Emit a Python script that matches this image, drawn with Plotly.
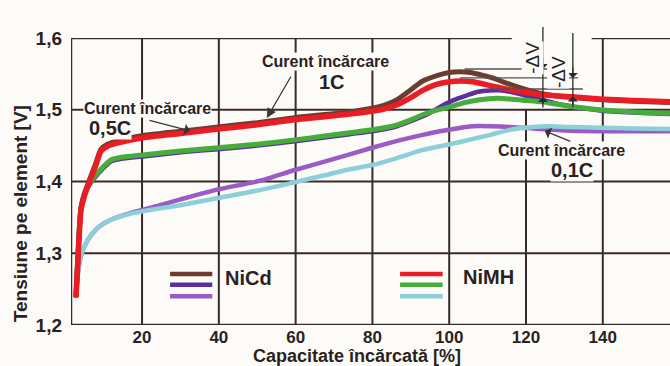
import plotly.graph_objects as go

# ---- charge curves: capacity charged [%] vs cell voltage [V] ----
cap_nicd_1c = [2.8, 3.4, 4.1, 5.0, 6.2, 7.8, 9.3, 11.0, 13.2, 20.2, 30, 39.8, 50, 59.7, 67, 74.1, 79.9,
               83, 86.4, 90, 93.1, 97, 100, 102.8, 105.5, 108.8, 111.5, 114, 118.4, 123.6, 128, 132,
               140, 148, 157.5]
u_nicd_1c = [1.242, 1.303, 1.363, 1.383, 1.401, 1.423, 1.445, 1.452, 1.456, 1.464, 1.470, 1.476, 1.482,
             1.489, 1.493, 1.497, 1.502, 1.506, 1.514, 1.528, 1.540, 1.548, 1.552, 1.553, 1.552, 1.548,
             1.544, 1.539, 1.531, 1.523, 1.519, 1.517, 1.514, 1.512, 1.510]

cap_nimh_1c = [2.8, 3.4, 4.1, 5.0, 6.2, 7.8, 9.3, 11.0, 13.2, 20.2, 30, 39.8, 50, 59.7, 67, 74.1, 79.9,
               83, 86.4, 90, 93.1, 96.5, 100.1, 103, 106.1, 111.3, 115.8, 120, 124.1, 131.9, 139.2,
               148, 157.5]
u_nimh_1c = [1.239, 1.300, 1.360, 1.380, 1.398, 1.420, 1.442, 1.449, 1.453, 1.461, 1.467, 1.473, 1.479,
             1.486, 1.490, 1.494, 1.498, 1.501, 1.507, 1.517, 1.527, 1.535, 1.539, 1.540, 1.539, 1.533,
             1.528, 1.524, 1.521, 1.518, 1.515, 1.513, 1.511]

cap_nicd_05c = [2.8, 3.4, 4.1, 5.5, 7.5, 9.8, 11.9, 14, 20.2, 30.7, 39.8, 50, 59.8, 67, 74.1, 79.9,
                86.4, 90, 94.4, 97.6, 101, 104.6, 107.5, 110.6, 113, 115.8, 118.4, 121, 124.1, 127,
                130.6, 135, 139.2, 148, 157.5]
u_nicd_05c = [1.238, 1.308, 1.362, 1.388, 1.404, 1.418, 1.428, 1.431, 1.435, 1.441, 1.445, 1.450, 1.456,
              1.461, 1.466, 1.470, 1.477, 1.484, 1.494, 1.504, 1.513, 1.520, 1.525, 1.527, 1.527, 1.525,
              1.522, 1.518, 1.514, 1.510, 1.506, 1.502, 1.499, 1.496, 1.494]

cap_nimh_05c = [2.8, 3.4, 4.1, 5.5, 7.5, 9.8, 11.9, 14, 20.2, 30.7, 39.8, 50, 59.8, 67, 74.1, 79.9,
                86.4, 90, 93.1, 96.5, 100.1, 104, 108, 112.4, 115.8, 120, 124.1, 130, 139.2, 148, 157.5]
u_nimh_05c = [1.239, 1.310, 1.364, 1.390, 1.406, 1.420, 1.430, 1.433, 1.437, 1.443, 1.447, 1.452, 1.458,
              1.463, 1.468, 1.472, 1.479, 1.486, 1.493, 1.499, 1.504, 1.510, 1.514, 1.516, 1.515, 1.513,
              1.511, 1.506, 1.500, 1.497, 1.495]

cap_nicd_01c = [2.8, 3.3, 4.2, 5.4, 7, 8.8, 12, 17.6, 24, 30, 39.8, 50.7, 59.8, 71.6, 79.9, 86, 93.1,
                97.5, 102, 106, 115.8, 121.8, 130, 139.2, 148, 157.5]
u_nicd_01c = [1.239, 1.272, 1.298, 1.314, 1.327, 1.337, 1.347, 1.357, 1.366, 1.375, 1.389, 1.401, 1.416,
              1.434, 1.447, 1.456, 1.465, 1.470, 1.474, 1.477, 1.476, 1.474, 1.471, 1.470, 1.470, 1.470]

cap_nimh_01c = [2.8, 3.3, 4.2, 5.4, 7, 8.8, 12, 17.6, 24, 30, 39.8, 50.7, 59.8, 67, 74.1, 79.9, 86,
                93.1, 102, 106, 110.6, 115.8, 121.8, 126, 130.6, 139.2, 148, 157.5]
u_nimh_01c = [1.239, 1.272, 1.298, 1.314, 1.327, 1.337, 1.347, 1.356, 1.362, 1.367, 1.377, 1.388, 1.399,
              1.408, 1.417, 1.423, 1.432, 1.444, 1.454, 1.459, 1.465, 1.472, 1.476, 1.477, 1.476, 1.475,
              1.474, 1.473]

x_ticks = [20, 40, 60, 80, 100, 120, 140]
y_ticks = [1.2, 1.3, 1.4, 1.5, 1.6]
y_tick_text = ["1,2", "1,3", "1,4", "1,5", "1,6"]

# ---- styling ----
BG = "#fcfbf7"
INK = "#2b1f1f"
GRID = "#3a2b2b"
FONT = "Liberation Sans, Arial, sans-serif"
C_BROWN = "#6e3b30"
C_RED = "#ec1c24"
C_DPURPLE = "#5a2fa0"
C_GREEN = "#46ad3c"
C_LILAC = "#9a5cc4"
C_CYAN = "#8ccfd9"

X0, X1 = 1.5, 157.5
Y0, Y1 = 1.2, 1.6

fig = go.Figure()

# draw order: lower curves first, so the 1C / 0.5C NiMH lines sit on top
series = [
    (cap_nicd_01c, u_nicd_01c, C_LILAC, 4.5),
    (cap_nimh_01c, u_nimh_01c, C_CYAN, 4.5),
    (cap_nicd_05c, u_nicd_05c, C_DPURPLE, 4.5),
    (cap_nimh_05c, u_nimh_05c, C_GREEN, 5),
    (cap_nicd_1c, u_nicd_1c, C_BROWN, 5),
    (cap_nimh_1c, u_nimh_1c, C_RED, 5.5),
]
for xs, ys, col, w in series:
    fig.add_trace(go.Scatter(x=xs, y=ys, mode="lines", showlegend=False, hoverinfo="skip",
                             line=dict(color=col, width=w, shape="spline", smoothing=0.6)))

shapes = []
# grid
for xv in x_ticks:
    top = 1.5 if xv == 120 else Y1
    shapes.append(dict(type="line", xref="x", yref="y", x0=xv, x1=xv, y0=Y0, y1=top,
                       line=dict(color=GRID, width=2), layer="below"))
for yv in [1.3, 1.4, 1.5]:
    shapes.append(dict(type="line", xref="x", yref="y", x0=X0, x1=X1, y0=yv, y1=yv,
                       line=dict(color=GRID, width=2), layer="below"))
# frame: left, bottom, and a top edge interrupted near the -ΔV marks
for (a, b, c, d) in [(X0, X0, Y0, Y1), (X0, X1, Y0, Y0), (X0, 116.3, Y1, Y1), (137.1, X1, Y1, Y1)]:
    shapes.append(dict(type="line", xref="x", yref="y", x0=a, x1=b, y0=c, y1=d,
                       line=dict(color=GRID, width=2.5), layer="below"))

# peak reference lines for -ΔV
for (a, b, yv) in [(104.0, 126.2, 1.5568), (102.8, 133.5, 1.5443), (110.6, 134.8, 1.5289)]:
    shapes.append(dict(type="line", xref="x", yref="y", x0=a, x1=b, y0=yv, y1=yv,
                       line=dict(color="#555050", width=1.3), layer="above"))
# vertical -ΔV marker lines (extend above the frame)
for xv, ytop, ybot in [(124.4, 1.038, 0.77), (132.2, 1.017, 0.77)]:
    shapes.append(dict(type="line", xref="x", yref="paper", x0=xv, x1=xv, y0=ybot, y1=ytop,
                       line=dict(color="#2b2b2b", width=1.3), layer="above"))

# legend swatches
for xa, xb, cols in [(27.3, 38.3, [C_BROWN, C_DPURPLE, C_LILAC]),
                     (87.2, 98.3, [C_RED, C_GREEN, C_CYAN])]:
    for yv, col in zip([1.271, 1.256, 1.240], cols):
        shapes.append(dict(type="line", xref="x", yref="y", x0=xa, x1=xb, y0=yv, y1=yv,
                           line=dict(color=col, width=4.5), layer="above"))

fig.update_layout(shapes=shapes)

bold = dict(family=FONT, color=INK, weight="bold")


def label(text, x, y, size, **kw):
    fig.add_annotation(text=text, x=x, y=y, xref="x", yref="y", showarrow=False,
                       font=dict(size=size, **bold), bgcolor=BG, borderpad=0, **kw)


label("Curent încărcare", 21.3, 1.5024, 16)
label("0,5C", 11.7, 1.4746, 20)
label("Curent încărcare", 67.9, 1.5666, 16)
label("1C", 69.4, 1.5387, 20)
label("Curent încărcare", 129.3, 1.4439, 16)
label("0,1C", 131.9, 1.416, 20)
label("NiCd", 41.4, 1.2655, 20, xanchor="left")
label("NiMH", 103.3, 1.2669, 20, xanchor="left")

# pointer arrows
for (hx, hy, ax, ay, head) in [(32.5, 1.4704, -42, -11, 1), (52.5, 1.4885, 25, -43, 2),
                               (124.9, 1.4704, 27, 11, 1)]:
    fig.add_annotation(x=hx, y=hy, xref="x", yref="y", text="", showarrow=True, ax=ax, ay=ay,
                       arrowhead=head, arrowsize=1.6, arrowwidth=1.2, arrowcolor="#3a3535")

# -ΔV arrowheads (down onto the peak line, up onto the curve)
for (hx, hy, ay) in [(124.4, 1.5568, -12), (124.4, 1.5178, 12), (132.2, 1.5443, -12), (132.2, 1.5185, 12)]:
    fig.add_annotation(x=hx, y=hy, xref="x", yref="y", text="", showarrow=True, ax=0, ay=ay,
                       arrowhead=1, arrowsize=1.3, arrowwidth=1.3, arrowcolor="#2b2b2b")

for tx, ty in [(121.8, 0.99), (128.3, 0.94)]:
    fig.add_annotation(text="-ΔV", x=tx, y=ty, xref="x", yref="paper", showarrow=False,
                       textangle=-90, font=dict(family=FONT, size=19, color=INK), bgcolor=BG, borderpad=0)

# axis titles
fig.add_annotation(text="Tensiune pe element [V]", x=-0.083, y=0.387, xref="paper", yref="paper",
                   xanchor="center", yanchor="middle",
                   showarrow=False, textangle=-90, font=dict(size=19, **bold))
fig.add_annotation(text="Capacitate încărcată [%]", x=0.477, y=-0.108, xref="paper", yref="paper",
                   xanchor="center", yanchor="middle",
                   showarrow=False, font=dict(size=18, **bold))

fig.update_xaxes(range=[X0, X1], tickvals=x_ticks, ticks="", showgrid=False, zeroline=False,
                 showline=False, tickfont=dict(size=17, **bold), ticklabelstandoff=0)
fig.update_yaxes(range=[Y0, Y1], tickvals=y_ticks, ticktext=y_tick_text, ticks="", showgrid=False,
                 zeroline=False, showline=False, tickfont=dict(size=19, **bold), ticklabelstandoff=8)

fig.update_layout(width=670, height=366, margin=dict(l=71, r=0, t=38, b=41),
                  paper_bgcolor=BG, plot_bgcolor=BG, showlegend=False,
                  font=dict(family=FONT, color=INK))

fig.write_html("out.html")
